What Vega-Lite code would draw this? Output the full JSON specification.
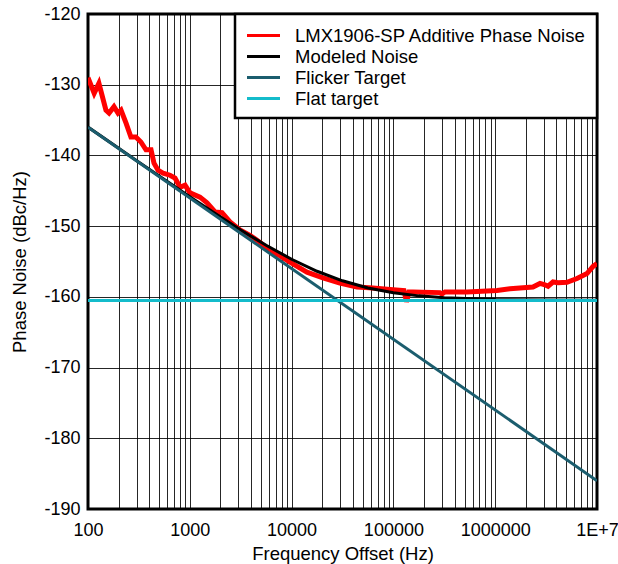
{
  "$schema": "https://vega.github.io/schema/vega-lite/v6.json",
  "width": 509,
  "height": 495,
  "autosize": {"type": "none"},
  "padding": {"left": 88, "top": 14, "right": 21, "bottom": 55},
  "background": "white",
  "config": {
    "font": "Liberation Sans",
    "view": {"stroke": "#000", "strokeWidth": 3},
    "axis": {"labelFont": "Liberation Sans", "titleFont": "Liberation Sans", "labelColor": "#000", "titleColor": "#000", "titleFontWeight": "normal", "labelFontSize": 18, "titleFontSize": 18.5, "domain": false, "ticks": false, "gridColor": "#000", "gridWidth": 1, "gridOpacity": 0.85},
    "legend": {"labelFont": "Liberation Sans", "labelFontSize": 18.5, "labelColor": "#000"}
  },
  "datasets": {
    "measured": [
      {"series": "LMX1906-SP Additive Phase Noise", "f": 100, "db": -129.0},
      {"series": "LMX1906-SP Additive Phase Noise", "f": 115, "db": -131.2},
      {"series": "LMX1906-SP Additive Phase Noise", "f": 128, "db": -129.8},
      {"series": "LMX1906-SP Additive Phase Noise", "f": 150, "db": -133.6},
      {"series": "LMX1906-SP Additive Phase Noise", "f": 161, "db": -134.0},
      {"series": "LMX1906-SP Additive Phase Noise", "f": 180, "db": -133.1},
      {"series": "LMX1906-SP Additive Phase Noise", "f": 197, "db": -134.0},
      {"series": "LMX1906-SP Additive Phase Noise", "f": 211, "db": -133.6},
      {"series": "LMX1906-SP Additive Phase Noise", "f": 236, "db": -135.4},
      {"series": "LMX1906-SP Additive Phase Noise", "f": 264, "db": -137.4},
      {"series": "LMX1906-SP Additive Phase Noise", "f": 295, "db": -137.4},
      {"series": "LMX1906-SP Additive Phase Noise", "f": 331, "db": -138.1},
      {"series": "LMX1906-SP Additive Phase Noise", "f": 371, "db": -139.2},
      {"series": "LMX1906-SP Additive Phase Noise", "f": 416, "db": -139.2},
      {"series": "LMX1906-SP Additive Phase Noise", "f": 445, "db": -141.1},
      {"series": "LMX1906-SP Additive Phase Noise", "f": 487, "db": -142.1},
      {"series": "LMX1906-SP Additive Phase Noise", "f": 546, "db": -142.5},
      {"series": "LMX1906-SP Additive Phase Noise", "f": 639, "db": -142.8},
      {"series": "LMX1906-SP Additive Phase Noise", "f": 716, "db": -143.2},
      {"series": "LMX1906-SP Additive Phase Noise", "f": 802, "db": -144.5},
      {"series": "LMX1906-SP Additive Phase Noise", "f": 898, "db": -144.2},
      {"series": "LMX1906-SP Additive Phase Noise", "f": 1005, "db": -145.3},
      {"series": "LMX1906-SP Additive Phase Noise", "f": 1259, "db": -145.9},
      {"series": "LMX1906-SP Additive Phase Noise", "f": 1476, "db": -146.7},
      {"series": "LMX1906-SP Additive Phase Noise", "f": 1770, "db": -148.0},
      {"series": "LMX1906-SP Additive Phase Noise", "f": 2072, "db": -148.1},
      {"series": "LMX1906-SP Additive Phase Noise", "f": 2483, "db": -149.4},
      {"series": "LMX1906-SP Additive Phase Noise", "f": 3112, "db": -150.55},
      {"series": "LMX1906-SP Additive Phase Noise", "f": 3899, "db": -151.3},
      {"series": "LMX1906-SP Additive Phase Noise", "f": 4898, "db": -152.3},
      {"series": "LMX1906-SP Additive Phase Noise", "f": 6138, "db": -153.5},
      {"series": "LMX1906-SP Additive Phase Noise", "f": 7690, "db": -154.2},
      {"series": "LMX1906-SP Additive Phase Noise", "f": 9638, "db": -155.1},
      {"series": "LMX1906-SP Additive Phase Noise", "f": 14160, "db": -156.5},
      {"series": "LMX1906-SP Additive Phase Noise", "f": 20330, "db": -157.3},
      {"series": "LMX1906-SP Additive Phase Noise", "f": 29850, "db": -158.05},
      {"series": "LMX1906-SP Additive Phase Noise", "f": 43850, "db": -158.6},
      {"series": "LMX1906-SP Additive Phase Noise", "f": 63100, "db": -158.75},
      {"series": "LMX1906-SP Additive Phase Noise", "f": 92700, "db": -158.95},
      {"series": "LMX1906-SP Additive Phase Noise", "f": 127000, "db": -159.1},
      {"series": "LMX1906-SP Additive Phase Noise", "f": 134500, "db": -160.7},
      {"series": "LMX1906-SP Additive Phase Noise", "f": 142300, "db": -159.3},
      {"series": "LMX1906-SP Additive Phase Noise", "f": 155900, "db": -159.3},
      {"series": "LMX1906-SP Additive Phase Noise", "f": 287000, "db": -159.4},
      {"series": "LMX1906-SP Additive Phase Noise", "f": 300000, "db": -159.6},
      {"series": "LMX1906-SP Additive Phase Noise", "f": 321000, "db": -159.3},
      {"series": "LMX1906-SP Additive Phase Noise", "f": 528000, "db": -159.3},
      {"series": "LMX1906-SP Additive Phase Noise", "f": 1042000, "db": -159.1},
      {"series": "LMX1906-SP Additive Phase Noise", "f": 1397000, "db": -158.85},
      {"series": "LMX1906-SP Additive Phase Noise", "f": 2350000, "db": -158.6},
      {"series": "LMX1906-SP Additive Phase Noise", "f": 2754000, "db": -158.1},
      {"series": "LMX1906-SP Additive Phase Noise", "f": 3083000, "db": -158.3},
      {"series": "LMX1906-SP Additive Phase Noise", "f": 3303000, "db": -158.5},
      {"series": "LMX1906-SP Additive Phase Noise", "f": 3698000, "db": -157.9},
      {"series": "LMX1906-SP Additive Phase Noise", "f": 4141000, "db": -158.0},
      {"series": "LMX1906-SP Additive Phase Noise", "f": 5072000, "db": -157.95},
      {"series": "LMX1906-SP Additive Phase Noise", "f": 6363000, "db": -157.4},
      {"series": "LMX1906-SP Additive Phase Noise", "f": 7980000, "db": -156.7},
      {"series": "LMX1906-SP Additive Phase Noise", "f": 9146000, "db": -155.7},
      {"series": "LMX1906-SP Additive Phase Noise", "f": 10000000, "db": -155.3}
    ],
    "modeled": [
      {"series": "Modeled Noise", "f": 100, "db": -135.99},
      {"series": "Modeled Noise", "f": 316.2, "db": -140.95},
      {"series": "Modeled Noise", "f": 1000, "db": -145.85},
      {"series": "Modeled Noise", "f": 1778, "db": -148.23},
      {"series": "Modeled Noise", "f": 3162, "db": -150.54},
      {"series": "Modeled Noise", "f": 5623, "db": -152.71},
      {"series": "Modeled Noise", "f": 10000, "db": -154.68},
      {"series": "Modeled Noise", "f": 17783, "db": -156.38},
      {"series": "Modeled Noise", "f": 31623, "db": -157.73},
      {"series": "Modeled Noise", "f": 56234, "db": -158.74},
      {"series": "Modeled Noise", "f": 100000, "db": -159.42},
      {"series": "Modeled Noise", "f": 177828, "db": -159.86},
      {"series": "Modeled Noise", "f": 316228, "db": -160.13},
      {"series": "Modeled Noise", "f": 1000000, "db": -160.38},
      {"series": "Modeled Noise", "f": 3162278, "db": -160.46},
      {"series": "Modeled Noise", "f": 10000000, "db": -160.49}
    ],
    "flicker": [
      {"series": "Flicker Target", "f": 100, "db": -136},
      {"series": "Flicker Target", "f": 10000000, "db": -186}
    ],
    "flat": [
      {"series": "Flat target", "f": 100, "db": -160.5},
      {"series": "Flat target", "f": 10000000, "db": -160.5}
    ]
  },
  "encoding": {
    "x": {
      "field": "f", "type": "quantitative",
      "scale": {"type": "log", "domain": [100, 10000000], "nice": false},
      "axis": {
        "title": "Frequency Offset (Hz)",
        "values": [100,200,300,400,500,600,700,800,900,1000,2000,3000,4000,5000,6000,7000,8000,9000,10000,20000,30000,40000,50000,60000,70000,80000,90000,100000,200000,300000,400000,500000,600000,700000,800000,900000,1000000,2000000,3000000,4000000,5000000,6000000,7000000,8000000,9000000,10000000],
        "labelExpr": "datum.value == 10000000 ? '1E+7' : (indexof([100,1000,10000,100000,1000000], datum.value) >= 0 ? '' + datum.value : '')",
        "labelOverlap": false,
        "labelFlush": false,
        "labelBound": false,
        "labelPadding": 12,
        "titlePadding": 5
      }
    },
    "y": {
      "field": "db", "type": "quantitative",
      "scale": {"domain": [-190, -120], "nice": false, "zero": false},
      "axis": {
        "title": "Phase Noise (dBc/Hz)",
        "values": [-190,-180,-170,-160,-150,-140,-130,-120],
        "labelExpr": "'' + datum.value",
        "labelPadding": 8,
        "titlePadding": 14
      }
    },
    "color": {
      "field": "series", "type": "nominal",
      "scale": {
        "domain": ["LMX1906-SP Additive Phase Noise", "Modeled Noise", "Flicker Target", "Flat target"],
        "range": ["#ff0000", "#000000", "#1b5d6e", "#14bccb"]
      },
      "legend": {
        "title": null,
        "orient": "top-right",
        "offset": 0,
        "fillColor": "white",
        "strokeColor": "#000",
        "padding": 10,
        "symbolType": "M-1.65,0H1.65",
        "symbolSize": 400,
        "symbolStrokeWidth": 3,
        "symbolOffset": 7,
        "labelFontSize": 18.5,
        "rowPadding": 0,
        "labelOffset": 20,
        "labelLimit": 400,
        "encode": {"legend": {"update": {"strokeWidth": {"value": 2.5}}}}
      }
    }
  },
  "layer": [
    {"data": {"name": "measured"}, "mark": {"type": "line", "strokeWidth": 5, "clip": true}},
    {"data": {"name": "modeled"}, "mark": {"type": "line", "strokeWidth": 3, "clip": true}},
    {"data": {"name": "flicker"}, "mark": {"type": "line", "strokeWidth": 3, "clip": true}},
    {"data": {"name": "flat"}, "mark": {"type": "line", "strokeWidth": 3, "clip": true}}
  ]
}
